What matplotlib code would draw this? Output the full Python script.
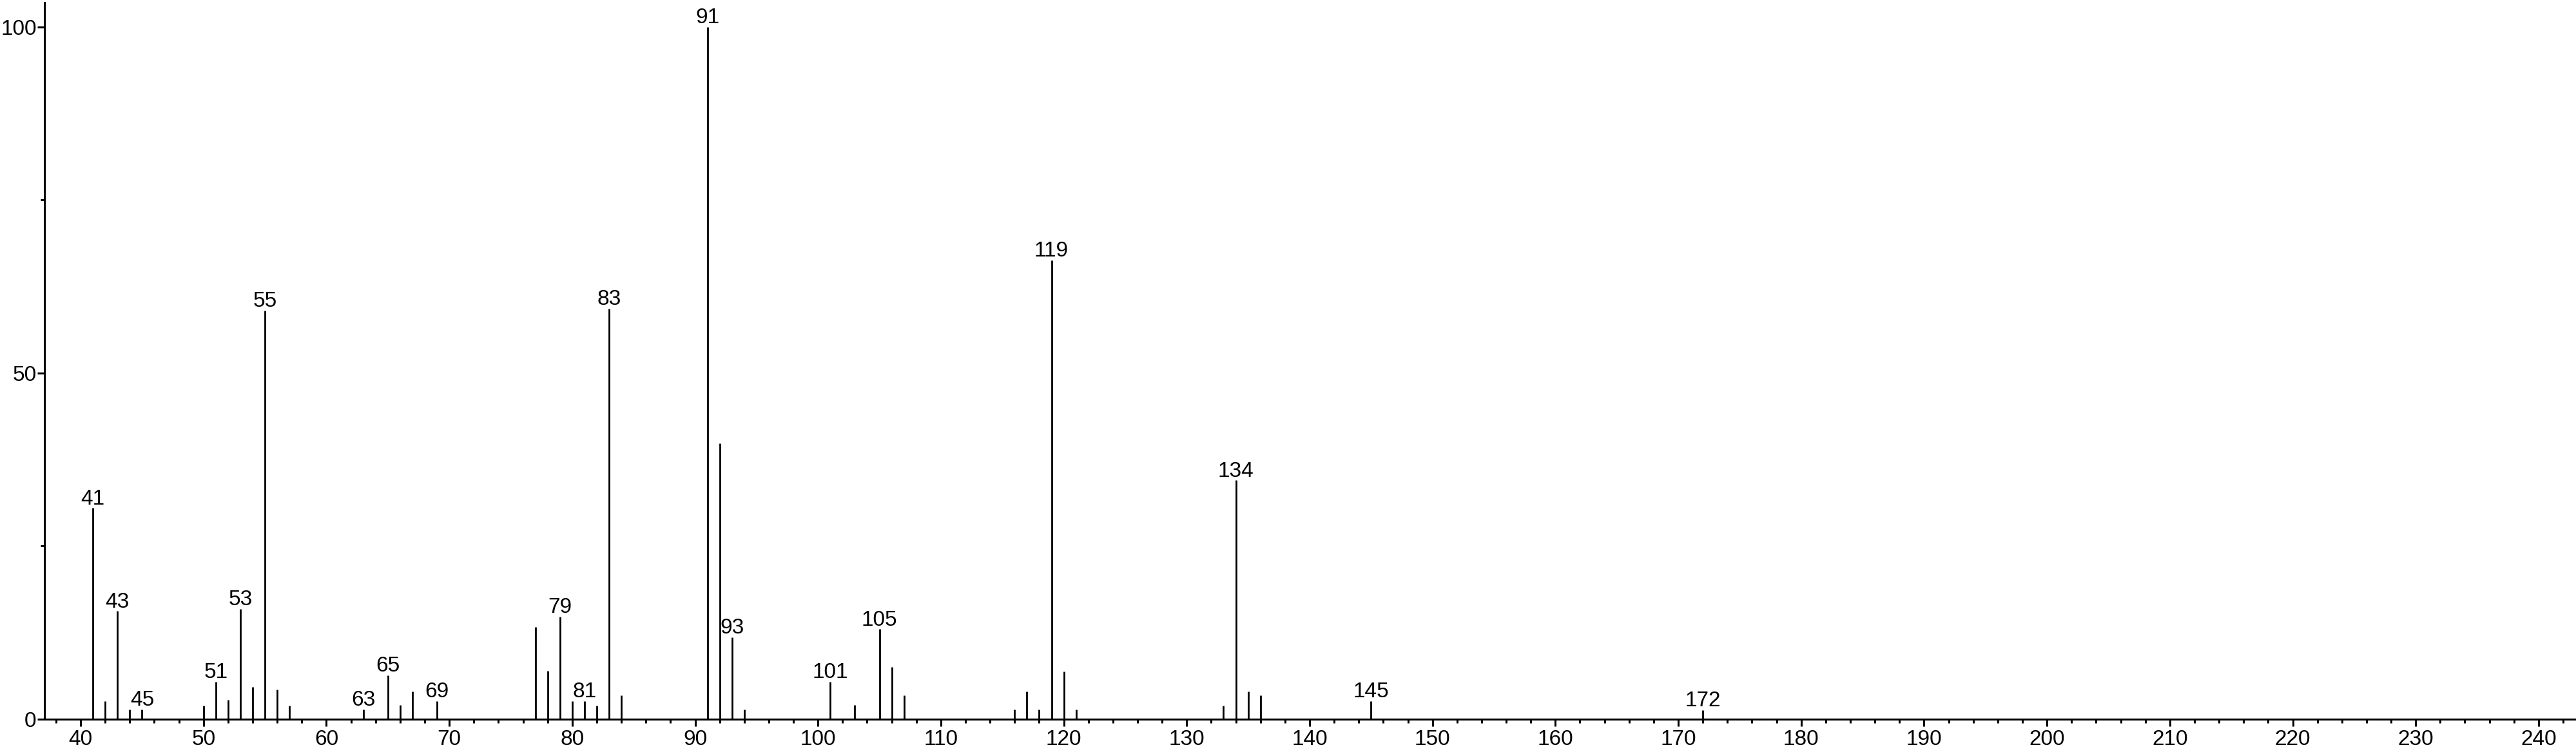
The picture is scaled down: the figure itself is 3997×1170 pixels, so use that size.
"""질량 스펙트럼 (EI-MS) 막대 그래프 재현"""
import matplotlib
matplotlib.use("Agg")
import matplotlib.pyplot as plt
from matplotlib.ticker import MultipleLocator

plt.rcParams["font.family"] = ["Liberation Sans", "DejaVu Sans"]

# m/z 및 상대 세기 (%)
mz = [41, 42, 43, 44, 45, 50, 51, 52, 53, 54, 55, 56, 57,
      63, 65, 66, 67, 69, 77, 78, 79, 80, 81, 82, 83, 84,
      91, 92, 93, 94, 101, 103, 105, 106, 107,
      116, 117, 118, 119, 120, 121, 133, 134, 135, 136, 145, 172]
intensity = [30.5, 2.6, 15.6, 1.4, 1.4, 1.9, 5.4, 2.8, 15.9, 4.6, 59.0, 4.3, 1.9,
             1.4, 6.3, 2.0, 4.0, 2.6, 13.3, 7.0, 14.8, 2.6, 2.6, 1.9, 59.3, 3.4,
             100.0, 39.8, 11.8, 1.4, 5.4, 2.0, 13.0, 7.5, 3.4,
             1.4, 4.0, 1.4, 66.3, 6.9, 1.4, 1.9, 34.5, 4.0, 3.4, 2.6, 1.3]

# 피크 라벨을 붙일 m/z
labeled = [41, 43, 45, 51, 53, 55, 63, 65, 69, 79, 81, 83,
           91, 93, 101, 105, 119, 134, 145, 172]

fig = plt.figure(figsize=(39.98, 11.7), dpi=100)
ax = fig.add_axes([0.01726, 0.0464, 0.98274, 0.9502])

ax.vlines(mz, 0, intensity, color="black", linewidth=2.0)

for m, v in zip(mz, intensity):
    if m in labeled:
        ax.annotate(str(m), (m, v), xytext=(0, 4), textcoords="offset points",
                    ha="center", va="baseline", fontsize=24)

ax.set_xlim(37.06, 243.1)
ax.set_ylim(0, 103.5)
ax.xaxis.set_major_locator(MultipleLocator(10))
ax.xaxis.set_minor_locator(MultipleLocator(2))
ax.yaxis.set_major_locator(MultipleLocator(50))
ax.yaxis.set_minor_locator(MultipleLocator(25))

for side in ["top", "right"]:
    ax.spines[side].set_visible(False)
for side in ["left", "bottom"]:
    ax.spines[side].set_linewidth(2.2)

ax.tick_params(axis="x", which="major", length=8, width=2.2, labelsize=24, pad=4)
ax.tick_params(axis="x", which="minor", length=4, width=2.2)
ax.tick_params(axis="y", which="major", length=8, width=2.2, labelsize=24, pad=1)
ax.tick_params(axis="y", which="minor", length=4, width=2.2)

fig.savefig("out.png", dpi=100)
plt.close(fig)
